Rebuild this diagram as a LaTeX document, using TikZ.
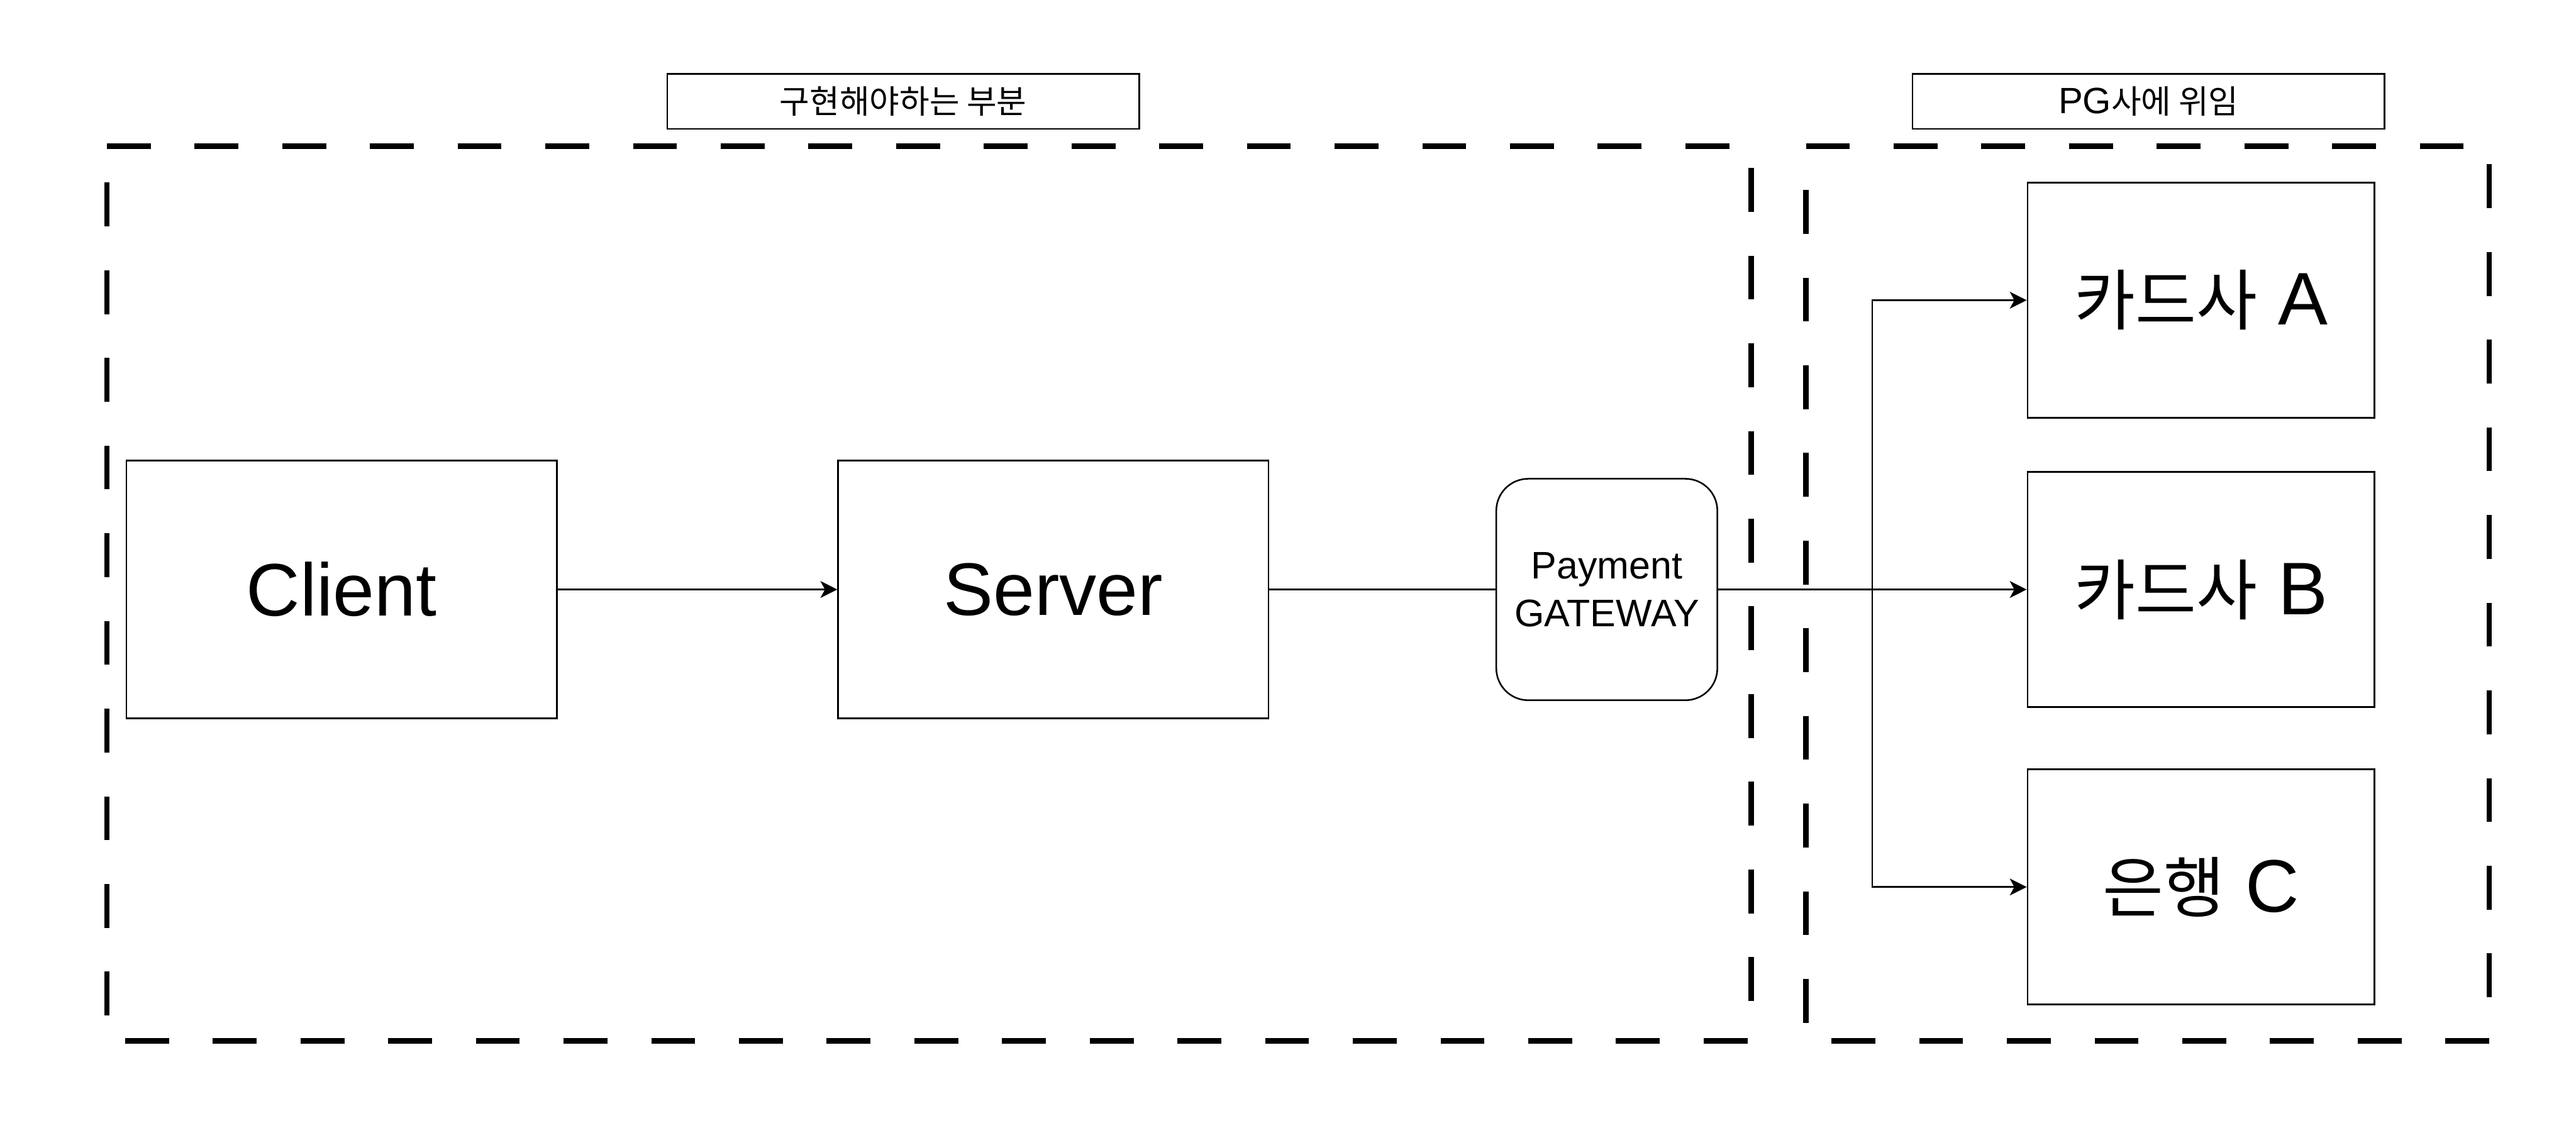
\documentclass[tikz,border=0pt]{standalone}
\usepackage{fontspec}
\setmainfont{Liberation Sans}
\newfontfamily\kr{Noto Sans CJK KR}[Scale=0.89]
\usetikzlibrary{arrows.meta}
\tikzset{
  thinbox/.style={draw=black, line width=1pt, fill=white, inner sep=0pt},
  bigbox/.style={thinbox, minimum width=9.42cm, minimum height=5.65cm, font=\fontsize{46.4}{55}\selectfont},
  cardbox/.style={thinbox, minimum width=7.60cm, minimum height=5.15cm, font=\fontsize{46.4}{55}\selectfont},
  gatebox/.style={thinbox, rounded corners=0.7cm, minimum width=4.84cm, minimum height=4.85cm, align=center, font=\fontsize{23.9}{29.6}\selectfont},
  labelbox/.style={thinbox, minimum width=10.33cm, minimum height=1.20cm, font=\fontsize{22.8}{27}\selectfont},
  region/.style={draw=black, line width=3.41pt, dash pattern=on 0.96cm off 0.96cm},
  arr/.style={draw=black, line width=1pt, -{Stealth[length=0.37cm, width=0.37cm, inset=0.1cm]}},
  link/.style={draw=black, line width=1pt},
}
\begin{document}
\begin{tikzpicture}
\useasboundingbox[fill=white] (0,0) rectangle (56.40,-24.80);
% dashed regions
\draw[region] (2.34,-3.20) -- (38.34,-3.20) -- (38.34,-22.80) -- (2.34,-22.80) -- cycle;
\draw[region] (39.54,-3.20) -- (54.50,-3.20) -- (54.50,-22.80) -- (39.54,-22.80) -- cycle;
% labels
\node[labelbox] (lab1) at (19.775,-2.22) {{\kr 구현해야하는 부분}};
\node[labelbox] (lab2) at (47.04,-2.22) {PG{\kr 사에 위임}};
% main nodes
\node[bigbox] (client) at (7.48,-12.91) {Client};
\node[bigbox] (server) at (23.06,-12.91) {Server};
\node[gatebox] (gw) at (35.18,-12.91) {Payment\\GATEWAY};
\node[cardbox] (cardA) at (48.19,-6.575) {{\kr 카드사} A};
\node[cardbox] (cardB) at (48.19,-12.91) {{\kr 카드사} B};
\node[cardbox] (bankC) at (48.19,-19.425) {{\kr 은행} C};
% connectors
\coordinate (j) at (40.99,-12.91);
\draw[arr] (client.east) -- (server.west);
\draw[link] (server.east) -- (gw.west);
\draw[arr] (gw.east) -- (cardB.west);
\draw[arr] (j) |- (cardA.west);
\draw[arr] (j) |- (bankC.west);
\end{tikzpicture}
\end{document}
